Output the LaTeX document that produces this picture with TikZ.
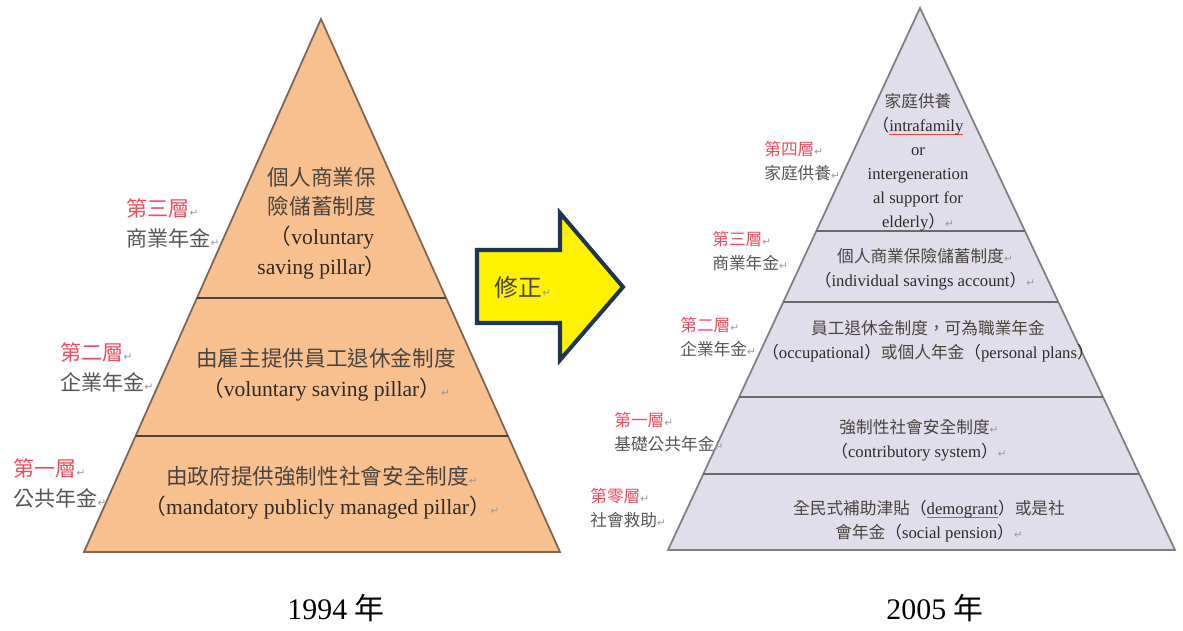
\documentclass[tikz,border=0pt]{standalone}
\usepackage{fontspec}
\setmainfont{Liberation Serif}
\newfontfamily\cjk{Noto Sans CJK TC}
\newfontfamily\symf{DejaVu Sans}
\usetikzlibrary{calc}
\definecolor{peach}{HTML}{F9C08F}
\definecolor{lav}{HTML}{E1DEEB}
\definecolor{labred}{HTML}{EE4B5E}
\definecolor{labgray}{HTML}{555555}
\definecolor{txt}{HTML}{2E2A28}
\definecolor{cjkgray}{HTML}{4A4440}
\definecolor{navy}{HTML}{1F3552}
\definecolor{edgeL}{HTML}{7A6656}
\definecolor{edgeR}{HTML}{7F7F86}
\definecolor{divc}{HTML}{4A4242}
\newcommand\ret{{\symf\fontsize{6}{6}\selectfont\textcolor{gray!80}{↵}}}
\newcommand\lp{{\cjk （}}
\newcommand\rp{{\cjk ）}}
\newcommand\cj[1]{{\cjk\color{cjkgray}#1}}
\newsavebox\sqbox
\newcommand\sq[1]{\sbox\sqbox{#1}\rlap{\textcolor{red!75}{\rule[-2pt]{\wd\sqbox}{0.5pt}}}\usebox\sqbox}
\tikzset{
  lblL/.style={anchor=west, align=left, inner sep=0pt, font=\cjk\fontsize{12}{17}\selectfont},
  lblR/.style={anchor=west, align=left, inner sep=0pt, font=\cjk\fontsize{9.5}{13.3}\selectfont},
  bigT/.style={align=center, inner sep=0pt, text=txt, font=\fontsize{12.3}{17}\selectfont},
  smT/.style={align=center, inner sep=0pt, text=txt, font=\fontsize{9.5}{13.6}\selectfont},
  divL/.style={draw=divc, line width=1.1pt},
  divR/.style={draw=divc!80, line width=1pt},
  captxt/.style={inner sep=0pt, font=\fontsize{17}{17}\selectfont, text=black}
}
\begin{document}
\begin{tikzpicture}[x=0.02cm, y=-0.02cm]
\useasboundingbox (0,0) rectangle (1183,630);
% ---------- left pyramid ----------
\coordinate (LA) at (321,19);
\coordinate (LB) at (84,552);
\coordinate (LC) at (560,552);
\fill[peach] (LA) -- (LB) -- (LC) -- cycle;
\draw[edgeL, line width=1pt, line join=miter] (LA) -- (LB) -- (LC) -- cycle;
\coordinate (L1a) at ($(LA)!0.5235!(LB)$);
\coordinate (L1b) at ($(LA)!0.5235!(LC)$);
\coordinate (L2a) at ($(LA)!0.7824!(LB)$);
\coordinate (L2b) at ($(LA)!0.7824!(LC)$);
\draw[divL] (L1a) -- (L1b);
\draw[divL] (L2a) -- (L2b);
\node[bigT] (lt) at (322,223) {\cj{個人商業保}\\ \cj{險儲蓄制度}\\ \lp voluntary\\ saving pillar\rp};
\node[bigT] (lm) at (326,375) {\cj{由雇主提供員工退休金制度}\\ \lp voluntary saving pillar\rp\ret};
\node[bigT] (lb) at (322,493) {\cj{由政府提供強制性社會安全制度}\ret\\ \lp mandatory publicly managed pillar\rp\ret};
\node[lblL] (l3) at (126,223) {\textcolor{labred}{第三層}\ret\\ \textcolor{labgray}{商業年金}\ret};
\node[lblL] (l2) at (60,367) {\textcolor{labred}{第二層}\ret\\ \textcolor{labgray}{企業年金}\ret};
\node[lblL] (l1) at (13,483) {\textcolor{labred}{第一層}\ret\\ \textcolor{labgray}{公共年金}\ret};
% ---------- arrow ----------
\draw[navy, line width=2.3pt, fill=yellow, line join=miter]
  (477,250) -- (560,250) -- (560,213) -- (623,287) -- (560,360) -- (560,323) -- (477,323) -- cycle;
\node[inner sep=0pt, font=\cjk\fontsize{13.5}{13.5}\selectfont, text=cjkgray] (fix) at (523,287) {修正\ret};
% ---------- right pyramid ----------
\coordinate (RA) at (920,8);
\coordinate (RB) at (668,550);
\coordinate (RC) at (1175,550);
\fill[lav] (RA) -- (RB) -- (RC) -- cycle;
\draw[edgeR, line width=1pt, line join=miter] (RA) -- (RB) -- (RC) -- cycle;
\coordinate (R1a) at ($(RA)!0.4114!(RB)$);
\coordinate (R1b) at ($(RA)!0.4114!(RC)$);
\coordinate (R2a) at ($(RA)!0.5424!(RB)$);
\coordinate (R2b) at ($(RA)!0.5424!(RC)$);
\coordinate (R3a) at ($(RA)!0.7177!(RB)$);
\coordinate (R3b) at ($(RA)!0.7177!(RC)$);
\coordinate (R4a) at ($(RA)!0.8598!(RB)$);
\coordinate (R4b) at ($(RA)!0.8598!(RC)$);
\draw[divR] (R1a) -- (R1b);
\draw[divR] (R2a) -- (R2b);
\draw[divR] (R3a) -- (R3b);
\draw[divR] (R4a) -- (R4b);
\node[smT] (rt) at (918,162) {\cj{家庭供養}\\ \lp\sq{intrafamily}\\ or\\ intergeneration\\ al support for\\ elderly\rp\ret};
\node[smT] (r2t) at (925,269) {\cj{個人商業保險儲蓄制度}\ret\\ \lp individual savings account\rp\ret};
\node[smT] (r3t) at (928,341) {\cj{員工退休金制度，可為職業年金}\\ \lp occupational\rp\cj{或個人年金}\lp personal plans\rp};
\node[smT] (r4t) at (919,440) {\cj{強制性社會安全制度}\ret\\ \lp contributory system\rp\ret};
\node[smT] (r5t) at (929,521) {\cj{全民式補助津貼}\lp\sq{demogrant}\rp\cj{或是社}\\ \cj{會年金}\lp social pension\rp\ret};
\node[lblR] (r4) at (764,161) {\textcolor{labred}{第四層}\ret\\ \textcolor{labgray}{家庭供養}\ret};
\node[lblR] (r3) at (712,251) {\textcolor{labred}{第三層}\ret\\ \textcolor{labgray}{商業年金}\ret};
\node[lblR] (r2) at (680,337) {\textcolor{labred}{第二層}\ret\\ \textcolor{labgray}{企業年金}\ret};
\node[lblR] (r1) at (614,432) {\textcolor{labred}{第一層}\ret\\ \textcolor{labgray}{基礎公共年金}\ret};
\node[lblR] (r0) at (590,508) {\textcolor{labred}{第零層}\ret\\ \textcolor{labgray}{社會救助}\ret};
% ---------- captions ----------
\node[captxt] (c1) at (336,608) {1994 {\cjk 年}};
\node[captxt] (c2) at (935,608) {2005 {\cjk 年}};
\end{tikzpicture}
\end{document}
